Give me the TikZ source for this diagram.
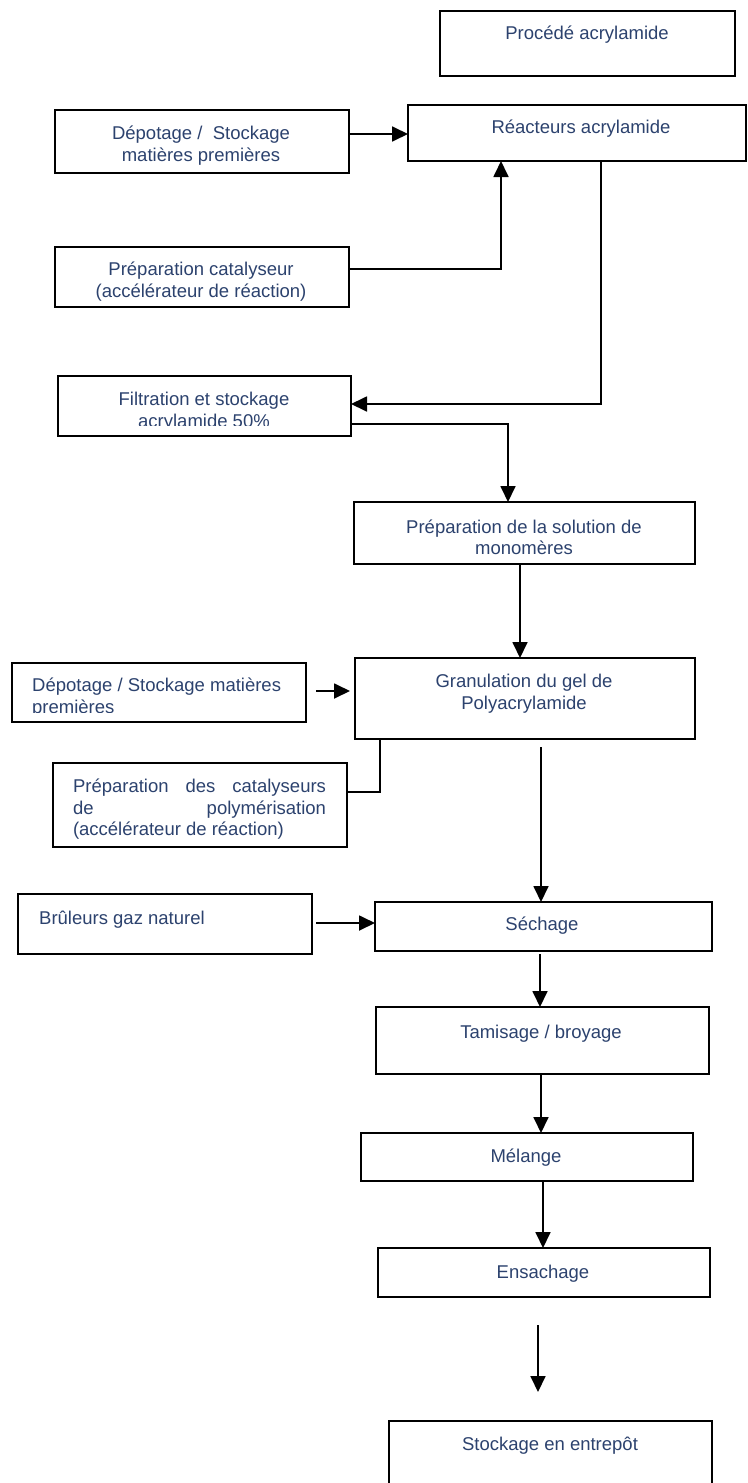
\documentclass[tikz,border=0pt]{standalone}
\usepackage{fontspec}
\setmainfont{Liberation Sans}
\usetikzlibrary{arrows.meta,fit,calc}
\definecolor{navy}{RGB}{44,66,110}
\begin{document}
\begin{tikzpicture}[x=1pt,y=-1pt,
  box/.style={draw=black, line width=2.2pt, inner sep=0pt, outer sep=0pt, rectangle},
  txt/.style={text=navy, font=\fontsize{18.5}{21.5}\selectfont, inner sep=0pt, align=center, yshift=-2.5pt},
  conn/.style={draw=black, line width=1.8pt},
  arr/.style={conn, -{Triangle[length=16pt,width=15pt]}}]
\useasboundingbox[fill=white] (0,0) rectangle (747,1483);

% boxes
\node[box, fit={(440,11)(735,76)}] (proc) {};
\node[box, fit={(408,105)(746,161)}] (reac) {};
\node[box, fit={(55,110)(349,173)}] (dep1) {};
\node[box, fit={(55,247)(349,307)}] (cat1) {};
\node[box, fit={(58,376)(351,436)}] (filt) {};
\node[box, fit={(354,502)(695,564)}] (sol) {};
\node[box, fit={(355,658)(695,739)}] (gran) {};
\node[box, fit={(12,663)(306,722)}] (dep2) {};
\node[box, fit={(53,763)(347,847)}] (cat2) {};
\node[box, fit={(18,894)(312,954)}] (brul) {};
\node[box, fit={(375,902)(712,951)}] (sech) {};
\node[box, fit={(376,1007)(709,1074)}] (tam) {};
\node[box, fit={(361,1133)(693,1181)}] (mel) {};
\node[box, fit={(378,1248)(710,1297)}] (ens) {};
\node[box, fit={(389,1421)(712,1500)}] (stock) {};

% texts
\node[txt] (procT) at (587,32) {Procédé acrylamide};
\node[txt] (reacT) at (581,126) {Réacteurs acrylamide};
\node[txt] (dep1T) at (201,143) {Dépotage /\ \ Stockage\\matières premières};
\node[txt] (cat1T) at (201,279) {Préparation catalyseur\\(accélérateur de réaction)};
\begin{scope}
  \clip (58,376) rectangle (351,425);
  \node[txt] (filtT) at (204,409) {Filtration et stockage\\acrylamide 50\%};
\end{scope}
\node[txt] (solT) at (524,535) {Préparation de la solution de\\monomères};
\node[txt] (granT) at (524,691) {Granulation du gel de\\Polyacrylamide};
\begin{scope}
  \clip (12,663) rectangle (306,712);
  \node[txt, anchor=west, align=left] (dep2T) at (32,695) {Dépotage / Stockage matières\\premières};
\end{scope}
\node[txt, align=left] (cat2T) at (199.5,807) {\makebox[253pt][s]{Préparation des catalyseurs}\\\makebox[253pt][s]{de polymérisation}\\(accélérateur de réaction)};
\node[txt, anchor=west] (brulT) at (39,917) {Brûleurs gaz naturel};
\node[txt] (sechT) at (542,923) {Séchage};
\node[txt] (tamT) at (541,1031) {Tamisage / broyage};
\node[txt] (melT) at (526,1155) {Mélange};
\node[txt] (ensT) at (543,1271) {Ensachage};
\node[txt] (stockT) at (550,1443) {Stockage en entrepôt};

% helper coordinates
\coordinate (p134) at (0,134);
\coordinate (p269) at (0,269);
\coordinate (q501) at (501,0);
\coordinate (q601) at (601,0);
\coordinate (p404) at (0,404);
\coordinate (p424) at (0,424);
\coordinate (q508) at (508,0);
\coordinate (q520) at (520,0);
\coordinate (s2) at (316,691);
\coordinate (p792) at (0,792);
\coordinate (q380) at (380,0);
\coordinate (q541) at (541,0);
\coordinate (s3) at (316,923);
\coordinate (q540) at (540,0);
\coordinate (q543) at (543,0);
\coordinate (q538) at (538,0);

% connectors
\draw[arr] (dep1.east |- p134) -- (reac.west |- p134);
\draw[arr] (cat1.east |- p269) -| (reac.south -| q501);
\draw[arr] (reac.south -| q601) |- (filt.east |- p404);
\draw[arr] (filt.east |- p424) -| (sol.north -| q508);
\draw[arr] (sol.south -| q520) -- (gran.north -| q520);
\draw[arr, shorten >=5pt] (s2) -- (gran.west |- s2);
\draw[conn] (cat2.east |- p792) -| (gran.south -| q380);
\draw[arr, shorten <=8pt] (gran.south -| q541) -- (sech.north -| q541);
\draw[arr] (s3) -- (sech.west |- s3);
\draw[arr, shorten <=3pt] (sech.south -| q540) -- (tam.north -| q540);
\draw[arr] (tam.south -| q541) -- (mel.north -| q541);
\draw[arr] (mel.south -| q543) -- (ens.north -| q543);
\draw[arr, shorten <=28pt, shorten >=29pt] (ens.south -| q538) -- (stock.north -| q538);
\end{tikzpicture}
\end{document}
